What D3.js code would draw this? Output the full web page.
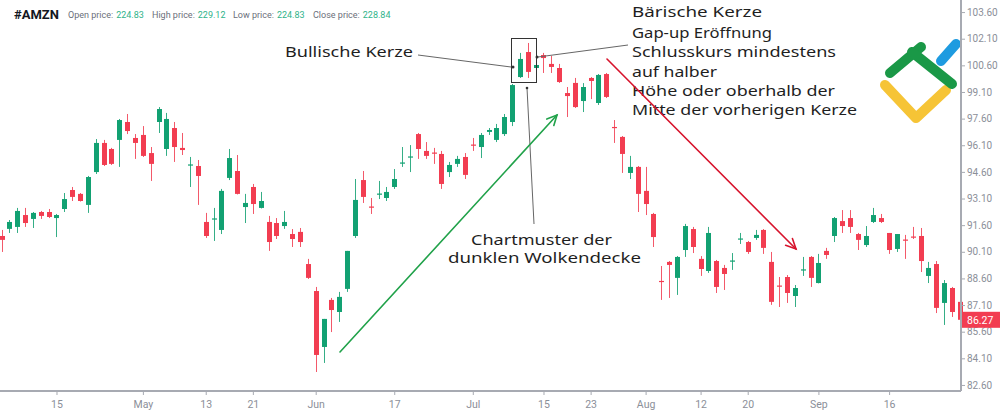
<!DOCTYPE html>
<html><head><meta charset="utf-8">
<script src="https://cdn.jsdelivr.net/npm/d3@7"></script>
<style>html,body{margin:0;padding:0;background:#fff;}svg{display:block;}</style>
</head><body>
<svg id="c" width="1000" height="412"></svg>
<script>
// ---- data (AMZN, split-adjusted, 2019) ----
const aprDays = [4,5,8,9,10,11,12,15,16,17,18,22,23,24,25,26,29,30];
const mayDays = [1,2,3,6,7,8,9,10,13,14,15,16,17,20,21,22,23,24,28,29,30,31];
const junDays = [3,4,5,6,7,10,11,12,13,14,17,18,19,20,21,24,25,26,27,28];
const julDays = [1,2,3,5,8,9,10,11,12,15,16,17,18,19,22,23,24,25,26,29,30,31];
const augDays = [1,2,5,6,7,8,9,12,13,14,15,16,19,20,21,22,23,26,27,28,29,30];
const sepDays = [3,4,5,6,9,10,11,12,13,16,17,18,19,20,23,24,25,26,27];

const open = [
90.99,91.39,91.50,92.17,91.95,92.34,92.34,92.00,92.51,93.58,
93.36,92.74,94.59,96.23,95.89,96.40,97.41,96.51,96.68,95.66,
97.41,95.89,97.07,95.95,94.96,94.93,91.78,91.92,91.33,94.26,
94.65,92.62,93.75,92.57,91.78,91.72,91.55,91.10,91.22,89.41,
87.89,84.74,87.39,86.71,88.01,90.99,94.14,92.65,93.33,93.13,
93.75,95.07,95.41,96.73,95.78,95.69,95.61,94.59,95.05,95.44,
96.14,96.00,96.85,96.40,96.73,97.41,99.94,101.35,100.45,101.18,
100.68,100.45,99.04,99.61,98.59,99.89,98.48,100.11,97.13,96.57,
94.54,94.88,93.53,92.23,88.46,89.53,88.63,90.20,91.38,89.70,
89.02,89.58,89.19,89.55,90.79,90.65,90.88,91.33,89.53,88.20,
88.68,87.61,89.05,89.81,88.34,90.15,90.99,91.83,92.00,91.10,
90.48,91.78,92.00,91.16,90.26,90.79,90.96,90.99,88.74,89.41,
87.22,88.06,87.28];
const high = [
91.33,91.89,92.57,92.57,92.34,92.40,92.51,92.23,93.41,93.75,
93.41,94.37,96.45,96.40,95.95,97.58,97.86,96.73,97.18,96.00,
98.25,97.92,97.41,96.79,95.44,95.27,92.29,92.57,93.64,95.89,
95.55,93.36,93.92,93.47,92.12,92.00,92.40,91.38,91.44,89.70,
88.12,86.32,87.50,87.84,90.15,94.20,94.65,93.13,94.09,93.75,
94.76,96.00,96.11,96.79,96.28,95.95,95.78,95.16,95.50,95.66,
96.51,96.79,97.07,97.30,97.86,99.55,101.30,101.86,100.79,101.30,
101.13,100.68,99.38,99.89,99.60,99.94,100.11,100.17,97.52,96.62,
95.50,94.93,94.88,92.29,89.30,89.58,89.86,91.67,91.50,89.86,
91.50,89.64,89.36,90.03,91.16,90.71,91.33,91.38,90.09,88.68,
88.79,88.23,89.81,89.86,89.98,90.32,92.06,92.45,92.45,91.16,
91.55,92.57,92.23,91.16,91.10,91.05,91.50,91.44,89.53,89.58,
88.51,88.12,87.28];
const low = [
90.09,91.16,91.16,91.50,91.44,91.95,92.00,90.93,92.34,92.96,
92.93,92.29,94.48,94.93,94.99,94.88,96.73,95.33,95.44,94.09,
96.79,95.50,95.16,95.55,93.75,92.74,90.88,90.71,91.10,94.14,
93.33,91.72,92.23,92.54,90.15,90.82,91.39,90.37,90.37,88.57,
83.33,83.84,85.58,86.15,87.84,90.88,92.85,92.23,93.07,92.96,
93.64,94.88,94.59,95.33,95.33,95.05,93.64,94.31,94.88,94.20,
95.78,95.38,96.68,96.28,96.62,97.18,99.89,99.89,100.17,100.17,
100.17,99.61,97.69,98.20,97.97,98.70,98.37,98.76,96.23,94.54,
94.20,92.34,92.17,90.37,87.39,87.50,87.67,89.81,90.03,88.74,
88.91,87.78,87.95,89.08,90.54,89.98,90.77,89.98,87.11,86.99,
87.22,86.99,88.74,88.12,88.32,89.70,90.65,91.16,91.16,90.20,
90.37,91.72,91.72,89.98,90.09,89.70,90.82,88.96,88.34,86.65,
85.98,86.43,85.58];
const close = [
90.77,91.78,92.40,91.72,92.29,92.12,92.06,92.17,93.07,93.19,
92.96,94.31,96.23,94.99,95.05,97.52,96.90,96.23,95.50,95.05,
98.14,97.58,96.00,95.83,95.02,94.37,90.99,91.98,93.53,95.38,
93.36,92.85,92.79,92.96,90.65,90.99,91.78,90.82,90.65,88.63,
84.29,86.32,86.82,87.56,90.15,93.02,93.19,92.60,93.38,93.47,
94.20,95.13,95.47,95.89,95.50,95.63,93.92,94.99,95.33,94.43,
96.09,96.68,96.96,97.07,97.69,99.49,100.96,100.23,100.62,101.01,
100.51,99.66,98.87,98.25,99.38,99.72,100.06,98.82,97.07,95.61,
94.88,93.36,92.79,90.93,88.40,89.36,89.81,91.55,90.37,89.13,
91.16,88.12,88.85,89.61,90.85,90.09,91.05,90.32,87.28,88.15,
87.78,88.06,89.11,88.63,89.47,89.92,92.00,91.55,91.50,90.77,
90.99,92.17,91.78,90.20,91.10,90.74,90.90,89.58,89.19,86.94,
88.34,86.71,86.27];

const yTicks = [82.6,84.1,85.6,87.1,88.6,90.1,91.6,93.1,94.6,96.1,97.6,99.1,100.6,102.1,103.6];
const tickDates = ["2019-04-15","2019-05-01","2019-05-13","2019-05-21","2019-06-03","2019-06-17","2019-07-01","2019-07-15","2019-07-23","2019-08-01","2019-08-12","2019-08-20","2019-09-03","2019-09-16"];
const tickLabels = ["15","May","13","21","Jun","17","Jul","15","23","Aug","12","20","Sep","16"];
const lastPrice = 86.27;
const headerLabels = ["Open price:","High price:","Low price:","Close price:"];
const headerValues = ["224.83","229.12","224.83","228.84"];
const bullText = "Bullische Kerze";
const bearLines = ["Bärische Kerze","Gap-up Eröffnung","Schlusskurs mindestens","auf halber","Höhe oder oberhalb der","Mitte der vorherigen Kerze"];
const patternLines = ["Chartmuster der","dunklen Wolkendecke"];

// ---- build ----
const pad = n => String(n).padStart(2,"0");
const dates = [].concat(
  aprDays.map(d=>`2019-04-${pad(d)}`), mayDays.map(d=>`2019-05-${pad(d)}`),
  junDays.map(d=>`2019-06-${pad(d)}`), julDays.map(d=>`2019-07-${pad(d)}`),
  augDays.map(d=>`2019-08-${pad(d)}`), sepDays.map(d=>`2019-09-${pad(d)}`));
const data = dates.map((d,i)=>({date:d,o:open[i],h:high[i],l:low[i],c:close[i]}));

const UP="#12a172", DOWN="#f23d51", AXIS="#a7aab2", TXT="#8b8f99";
const svg = d3.select("#c");
const plotR = 961, plotB = 391;
const x = d3.scalePoint().domain(dates).range([1.5, 959.8]);
const y = d3.scaleLinear().domain([82.26, 104.28]).range([plotB, 0]);

// logo
const logo = svg.append("g").attr("fill","none").attr("stroke-linecap","round").attr("stroke-linejoin","round").attr("stroke-width",10);
logo.append("path").attr("d","M885,85 L916,118 L946,90").attr("stroke","#f6c436");
logo.append("path").attr("d","M890,73 L921,47").attr("stroke","#1a9847");
logo.append("path").attr("d","M912,52 L952,84").attr("stroke","#1a9847");
logo.append("path").attr("d","M941,61 L956,44").attr("stroke","#1e9be0");

// candles
const cg = svg.append("g");
const bw = 5;
cg.selectAll("line.w").data(data).join("line")
  .attr("x1",d=>Math.round(x(d.date))+0.5).attr("x2",d=>Math.round(x(d.date))+0.5)
  .attr("y1",d=>y(d.h)).attr("y2",d=>y(d.l))
  .attr("stroke",d=>d.c>=d.o?UP:DOWN).attr("stroke-width",1).attr("opacity",0.85);
cg.selectAll("rect.b").data(data).join("rect")
  .attr("x",d=>Math.round(x(d.date))+0.5-bw/2).attr("width",bw)
  .attr("y",d=>y(Math.max(d.o,d.c)))
  .attr("height",d=>Math.max(1.2, Math.abs(y(d.o)-y(d.c))))
  .attr("fill",d=>d.c>=d.o?UP:DOWN);

// axes
const ax = svg.append("g").attr("transform",`translate(0,${plotB})`)
  .call(d3.axisBottom(x).tickValues(tickDates).tickFormat((d,i)=>tickLabels[i]).tickSize(4).tickSizeOuter(0));
ax.select(".domain").attr("stroke",AXIS).attr("stroke-width",2).attr("d",`M0,0H${plotR}`);
ax.selectAll(".tick line").attr("stroke",AXIS);
ax.selectAll(".tick text").attr("fill",TXT).attr("font-family","Roboto, sans-serif").attr("font-size",10.5).attr("dy","0.95em");

const ay = svg.append("g").attr("transform",`translate(${plotR},0)`)
  .call(d3.axisRight(y).tickValues(yTicks).tickFormat(d3.format(".2f")).tickSize(4).tickSizeOuter(0));
ay.select(".domain").attr("stroke",AXIS).attr("stroke-width",2).attr("d",`M0,0V${plotB}`);
ay.selectAll(".tick line").attr("stroke",AXIS);
ay.selectAll(".tick text").attr("fill",TXT).attr("font-family","Roboto, sans-serif").attr("font-size",10).attr("x",6);

// last price label
const lp = svg.append("g").attr("transform",`translate(${plotR+1},${y(lastPrice)})`);
lp.append("rect").attr("x",0).attr("y",-8).attr("width",39).attr("height",16).attr("fill",DOWN);
lp.append("text").attr("x",5).attr("y",4).attr("fill","#fff").attr("font-family","Roboto, sans-serif").attr("font-size",10.5).text(d3.format(".2f")(lastPrice));

// header
const hg = svg.append("g").attr("font-family","Roboto, sans-serif").attr("font-size",9);
hg.append("text").attr("x",14).attr("y",19).attr("font-weight","bold").attr("font-size",13).attr("fill","#131722").text("#AMZN");
const hx = [68,152,233,313];
headerLabels.forEach((t,i)=>{
  const lab = hg.append("text").attr("x",hx[i]).attr("y",18).attr("fill","#6b6f7a").text(t);
  const w = lab.node().getComputedTextLength();
  hg.append("text").attr("x",hx[i]+w+3).attr("y",18).attr("fill","#2fb38a").text(headerValues[i]);
});

// annotations
const ANN="#1f1f1f", LN="#666";
const font = "'Noto Sans', sans-serif";
const ag = svg.append("g").attr("font-family",font).attr("font-size",15).attr("fill",ANN);
function fitText(sel,w){ sel.attr("textLength",w).attr("lengthAdjust","spacingAndGlyphs"); }
fitText(ag.append("text").attr("x",285).attr("y",57).text(bullText),128);
const bearW=[130,140,204,85,203,225], bearY=[17,38,57,77,96,115];
bearLines.forEach((t,i)=>fitText(ag.append("text").attr("x",632).attr("y",bearY[i]).text(t),bearW[i]));
fitText(ag.append("text").attr("x",471).attr("y",245).text(patternLines[0]),141);
fitText(ag.append("text").attr("x",448).attr("y",263).text(patternLines[1]),193);

// pointer lines and box
const pg = svg.append("g").attr("stroke",LN).attr("fill","none").attr("stroke-width",1);
pg.append("line").attr("x1",418).attr("y1",55).attr("x2",511).attr("y2",67);
pg.append("rect").attr("x",511.5).attr("y",38.5).attr("width",25).attr("height",44).attr("stroke","#333");
pg.append("line").attr("x1",538).attr("y1",57).attr("x2",628).attr("y2",45);
pg.append("line").attr("x1",527).attr("y1",88).attr("x2",534).attr("y2",224);
svg.append("circle").attr("cx",513).attr("cy",67).attr("r",1.5).attr("fill","#333");
svg.append("circle").attr("cx",537).attr("cy",57).attr("r",1.5).attr("fill","#333");
svg.append("circle").attr("cx",527).attr("cy",88).attr("r",1.3).attr("fill","#333");

// trend arrows
function arrow(x1,y1,x2,y2,col){
  const g = svg.append("g").attr("stroke",col).attr("stroke-width",1.6).attr("fill","none").attr("stroke-linecap","round");
  g.append("line").attr("x1",x1).attr("y1",y1).attr("x2",x2).attr("y2",y2);
  const a = Math.atan2(y2-y1,x2-x1), L=11, s=0.45;
  g.append("path").attr("d",`M${x2-L*Math.cos(a-s)},${y2-L*Math.sin(a-s)} L${x2},${y2} L${x2-L*Math.cos(a+s)},${y2-L*Math.sin(a+s)}`);
}
arrow(340,352,557,115,"#21a24a");
arrow(607,59,796,249,"#d7132c");
</script>
</body></html>
